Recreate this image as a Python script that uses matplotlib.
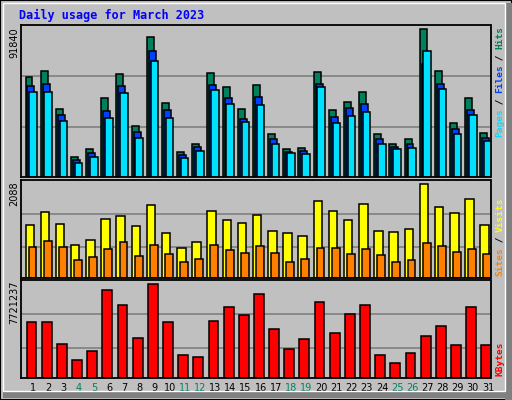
import matplotlib
matplotlib.use("Agg")
import matplotlib.pyplot as plt
from matplotlib.patches import Rectangle

days = list(range(1, 32))
weekend = [4, 5, 11, 12, 18, 19, 25, 26]
hits = [61855, 65604, 42486, 12496, 17494, 48734, 63730, 31865, 86847, 46235, 15620, 20618, 64354, 55607, 42486, 56857,
        26866, 17494, 18119, 64979, 41862, 46860, 52483, 26866, 20618, 23742, 91840, 65604, 33739, 48734, 27491]
files = [56232, 57482, 38738, 10622, 14995, 41237, 56232, 28116, 78100, 41862, 13746, 18744, 56857, 48734, 36238, 49359,
         23742, 15620, 16245, 57482, 37488, 43111, 45610, 23742, 18744, 20618, 69978, 57482, 29990, 41862, 24367]
pages = [52483, 52483, 34989, 8747, 12496, 36863, 51858, 24367, 71852, 36863, 11871, 16245, 53733, 45610, 34364, 44986,
         20618, 14995, 14370, 55607, 33739, 38113, 40612, 20618, 17494, 18119, 78100, 54358, 26866, 38738, 22493]
visits = [1184, 1478, 1206, 731, 844, 1319, 1387, 1161, 1636, 1003, 663, 799, 1500, 1297, 1229, 1410,
          1048, 1003, 935, 1727, 1500, 1297, 1659, 1048, 1025, 1093, 2088, 1591, 1455, 1772, 1184]
sites = [686, 822, 686, 392, 460, 641, 799, 483, 731, 528, 347, 415, 731, 618, 550, 709,
         550, 347, 415, 664, 664, 528, 641, 505, 347, 392, 777, 709, 573, 641, 528]
kbytes = [4593340, 4593340, 2818000, 1465360, 2226220, 7214080, 6030520, 3325240, 7721237, 4593340, 1888060, 1718980,
          4677880, 5861440, 5185120, 6875920, 4001560, 2395300, 3240700, 6284140, 3663400, 5269660, 6030520, 1888060,
          1211740, 2057140, 3494320, 4255180, 2733460, 5861440, 2733460]

BG = "#c0c0c0"
W, H = 512, 400
fig = plt.figure(figsize=(5.12, 4.0), dpi=100, facecolor=BG)

# outer frame
fig.patches.append(Rectangle((0, 0), 1, 1, transform=fig.transFigure, fill=False, ec="black", lw=1.5))
fig.patches.append(Rectangle((505 / W, 0), 7 / W, 1 - 3 / H, transform=fig.transFigure, fc="#808080", ec="none"))
fig.patches.append(Rectangle((3 / W, 2 / H), 1 - 3 / W, 7 / H, transform=fig.transFigure, fc="#808080", ec="none"))
fig.patches.append(Rectangle((3 / W, 9 / H), 502 / W, 388 / H, transform=fig.transFigure, fill=False, ec="white", lw=1))

def mkax(top, bottom):
    ax = fig.add_axes([20.5 / W, 1 - bottom / H, 470 / W, (bottom - top) / H])
    ax.set_facecolor(BG)
    ax.set_xlim(0.45, 31.45)
    ax.set_xticks([])
    ax.set_yticks([])
    for s in ax.spines.values():
        s.set_color("black")
        s.set_linewidth(1.3)
    return ax

ec = dict(edgecolor="black", linewidth=1.1, align="edge")

ax1 = mkax(25, 177)
ax1.set_ylim(0, 94345)
for g in (31240, 62480):
    ax1.axhline(g, color="#808080", lw=1.2, zorder=0)
ax1.bar([d - 0.22 for d in days], hits, width=0.46, color="#00805c", **ec)
ax1.bar([d - 0.09 for d in days], files, width=0.46, color="#0040ff", **ec)
ax1.bar([d + 0.03 for d in days], pages, width=0.5, color="#00e0ff", **ec)

ax2 = mkax(180, 278)
ax2.set_ylim(0, 2187)
for g in (686, 1433):
    ax2.axhline(g, color="#808080", lw=1.2, zorder=0)
ax2.bar([d - 0.22 for d in days], visits, width=0.56, color="#ffff00", **ec)
ax2.bar([d - 0.02 for d in days], sites, width=0.52, color="#ff8000", **ec)

ax3 = mkax(280, 378)
ax3.set_ylim(0, 8059000)
for g in (2480000, 5270000):
    ax3.axhline(g, color="#808080", lw=1.2, zorder=0)
ax3.bar([d - 0.15 for d in days], kbytes, width=0.65, color="#ff0000", **ec)

for d in days:
    ax3.text(d + 0.29, -0.105, str(d), transform=ax3.get_xaxis_transform(), ha="center", va="center",
             fontsize=7, color="#008060" if d in weekend else "black")

fig.text(19 / W, 1 - 15 / H, "Daily usage for March 2023", color="#0000ff", fontsize=8.5,
         family="DejaVu Sans Mono", fontweight="bold", ha="left", va="center")

for y, lab in ((27, "91840"), (181, "2088"), (281, "7721237")):
    fig.text(14 / W, 1 - y / H, lab, rotation=90, ha="center", va="top", fontsize=7)

def rlabel(ybottom, parts):
    pos = ybottom
    for txt, col in parts:
        fig.text(500 / W, 1 - pos / H, txt, rotation=90, ha="center", va="bottom", color=col,
                 fontsize=6.8, family="DejaVu Sans Mono", fontweight="bold")
        pos -= len(txt) * 5.5

rlabel(137, [("Pages", "#00e0ff"), (" / ", "black"), ("Files", "#0040ff"), (" / ", "black"), ("Hits", "#00805c")])
rlabel(276, [("Sites", "#ff8000"), (" / ", "black"), ("Visits", "#ffff00")])
rlabel(376, [("KBytes", "#ff0000")])

fig.savefig("out.png", dpi=100, facecolor=BG)
